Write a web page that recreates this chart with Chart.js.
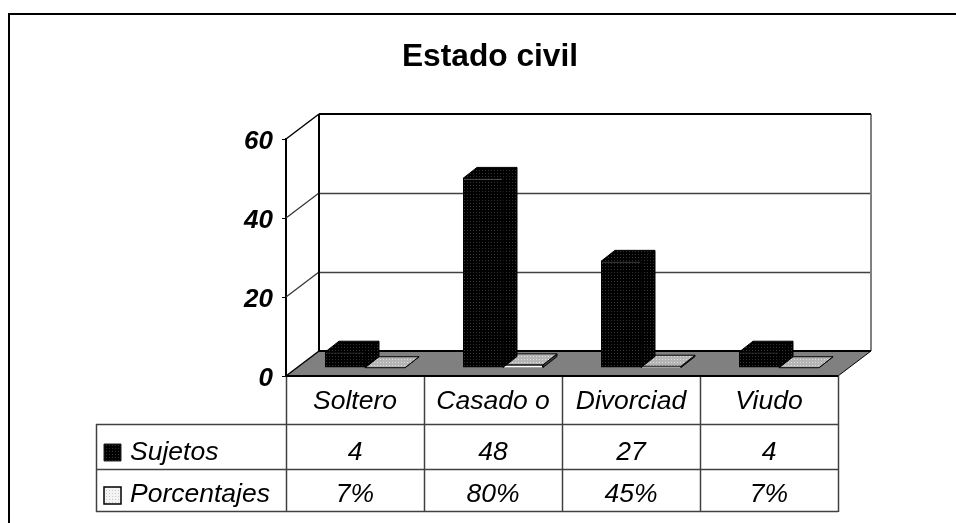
<!DOCTYPE html>
<html>
<head>
<meta charset="utf-8">
<title>Estado civil</title>
<script src="https://cdn.jsdelivr.net/npm/chart.js@4/dist/chart.umd.min.js"></script>
<style>
  html, body { margin: 0; background: #fff; }
  canvas { display: block; }
</style>
</head>
<body>
<canvas id="myChart" width="956" height="523"></canvas>
<script>
  //Datos
  const categorias = ['Soltero', 'Casado o', 'Divorciad', 'Viudo'];
  const sujetos = [4, 48, 27, 4];
  const porcentajes = [0.07, 0.80, 0.45, 0.07];
  const porcentajesTexto = ['7%', '80%', '45%', '7%'];
  const ticksY = [0, 20, 40, 60];

  const fuente = '"Liberation Sans", Arial, sans-serif';

  //Profundidad de la caja 3D y de las barras
  const cajaX = 33, cajaY = 25;
  const barraX = 14, barraY = 11;
  const corrX = 10, corrY = 8;

  function trama(fondo, punto) {
    const c = document.createElement('canvas');
    c.width = 3; c.height = 3;
    const g = c.getContext('2d');
    g.fillStyle = fondo;
    g.fillRect(0, 0, 3, 3);
    g.fillStyle = punto;
    g.fillRect(1, 1, 1, 1);
    return g.createPattern(c, 'repeat');
  }
  const tramaOscura = trama('#000000', '#333333');
  const tramaClara = trama('#b4b4b4', '#e0e0e0');
  const tramaLeyenda = trama('#f4f4f4', '#c8c8c8');

  function poligono(ctx, puntos, relleno, borde, ancho) {
    ctx.beginPath();
    puntos.forEach((p, i) => i ? ctx.lineTo(p[0], p[1]) : ctx.moveTo(p[0], p[1]));
    ctx.closePath();
    ctx.fillStyle = relleno;
    ctx.fill();
    if (borde) {
      ctx.strokeStyle = borde;
      ctx.lineWidth = ancho || 1;
      ctx.stroke();
    }
  }

  function linea(ctx, x1, y1, x2, y2, color, ancho) {
    ctx.beginPath();
    ctx.moveTo(x1, y1);
    ctx.lineTo(x2, y2);
    ctx.strokeStyle = color;
    ctx.lineWidth = ancho;
    ctx.stroke();
  }

  //Paredes, piso, marco y tabla de datos
  const caja3d = {
    id: 'caja3d',
    beforeDatasetsDraw(chart) {
      const ctx = chart.ctx;
      const a = chart.chartArea;
      const y = chart.scales.y;
      ctx.save();
      //marco exterior
      linea(ctx, 9, 14, 956, 14, '#000', 2);
      linea(ctx, 9, 13, 9, 523, '#000', 2);
      //piso
      poligono(ctx, [[a.left, a.bottom], [a.left + cajaX, a.bottom - cajaY],
        [a.right + cajaX, a.bottom - cajaY], [a.right, a.bottom]], '#808080');
      //lineas de division
      ticksY.forEach(v => {
        const py = Math.round(y.getPixelForValue(v));
        if (v > 0 && v < 60) {
          linea(ctx, a.left + cajaX, py - cajaY + 0.5, a.right + cajaX, py - cajaY + 0.5, '#404040', 1.5);
          linea(ctx, a.left, py, a.left + cajaX, py - cajaY, '#333', 1.2);
        }
      });
      const top = a.top - cajaY, fondo = a.bottom - cajaY;
      linea(ctx, a.right + cajaX, top, a.right + cajaX, fondo, '#808080', 2);
      linea(ctx, a.left + cajaX, top, a.right + cajaX, top, '#000', 2);
      linea(ctx, a.left + cajaX, top, a.left + cajaX, fondo, '#000', 2);
      linea(ctx, a.left, a.top, a.left + cajaX, top, '#000', 1.5);
      linea(ctx, a.left, a.bottom, a.left + cajaX, fondo, '#000', 1.5);
      linea(ctx, a.left + cajaX, fondo, a.right + cajaX, fondo, '#000', 2);
      linea(ctx, a.right, a.bottom, a.right + cajaX, fondo, '#000', 1);
      ctx.restore();
      //las barras se apoyan dentro del piso
      ctx.save();
      ctx.translate(corrX, -corrY);
    },
    beforeDatasetDraw(chart, args) {
      const ctx = chart.ctx;
      const oscura = args.index === 0;
      args.meta.data.forEach(el => {
        const w = el.width / 2;
        const x0 = el.x - w, x1 = el.x + w;
        //lado
        poligono(ctx, [[x1, el.base], [x1 + barraX, el.base - barraY], [x1 + barraX, el.y - barraY], [x1, el.y]],
          oscura ? tramaOscura : '#404040', '#000', 1);
        //tapa
        poligono(ctx, [[x0, el.y], [x0 + barraX, el.y - barraY], [x1 + barraX, el.y - barraY], [x1, el.y]],
          oscura ? tramaOscura : tramaClara, '#000', 1);
      });
    },
    afterDatasetsDraw(chart) {
      chart.ctx.restore();
    },
    afterDraw(chart) {
      const ctx = chart.ctx;
      const a = chart.chartArea;
      const x = chart.scales.x;
      const paso = (a.right - a.left) / categorias.length;
      const filas = [424, 469, 511];
      const izq = 96;
      ctx.save();
      //tabla
      filas.forEach(f => linea(ctx, izq, f + 0.5, a.right, f + 0.5, '#404040', 1.5));
      linea(ctx, izq + 0.5, filas[0], izq + 0.5, filas[2] + 1, '#404040', 1.5);
      categorias.forEach((c, i) => {
        const bx = Math.round(x.getPixelForValue(i) - paso / 2) + 0.5;
        linea(ctx, bx, a.bottom, bx, filas[2] + 1, '#404040', 1.5);
      });
      linea(ctx, a.right + 0.5, a.bottom, a.right + 0.5, filas[2] + 1, '#404040', 1.5);
      linea(ctx, a.left, a.bottom, a.right, a.bottom, '#000', 2);
      //texto
      ctx.font = 'italic 26.5px ' + fuente;
      ctx.fillStyle = '#000';
      ctx.textBaseline = 'alphabetic';
      ctx.textAlign = 'left';
      ctx.fillText(chart.data.datasets[0].label, 130, 460);
      ctx.fillText(chart.data.datasets[1].label, 130, 502);
      ctx.textAlign = 'center';
      categorias.forEach((c, i) => {
        const cx = x.getPixelForValue(i);
        ctx.fillText(String(sujetos[i]), cx, 460);
        ctx.fillText(porcentajesTexto[i], cx, 502);
      });
      //leyenda
      poligono(ctx, [[104, 444], [121, 444], [121, 461], [104, 461]], tramaOscura, '#222', 1);
      poligono(ctx, [[104, 487], [121, 487], [121, 504], [104, 504]], tramaLeyenda, '#000', 1.5);
      ctx.restore();
    }
  };

  const data = {
    labels: categorias,
    datasets: [{
      label: 'Sujetos',
      data: sujetos,
      backgroundColor: tramaOscura,
      borderColor: '#000',
      borderWidth: 1,
      clip: false
    }, {
      label: 'Porcentajes',
      data: porcentajes,
      backgroundColor: '#ffffff',
      borderColor: '#000',
      borderWidth: 1,
      clip: false
    }]
  };

  const config = {
    type: 'bar',
    data: data,
    plugins: [caja3d],
    options: {
      responsive: false,
      animation: false,
      events: [],
      barPercentage: 1,
      categoryPercentage: 0.58,
      layout: { padding: { left: 142, right: 118, top: 0, bottom: 0 } },
      plugins: {
        legend: { display: false },
        tooltip: { enabled: false },
        title: {
          display: true,
          text: 'Estado civil',
          color: '#000',
          font: { family: fuente, size: 31.7, weight: 'bold', lineHeight: 1 },
          padding: { top: 41, bottom: 66.3 }
        }
      },
      scales: {
        x: {
          grid: { display: false },
          border: { display: false },
          afterFit(scale) { scale.height = 147; },
          ticks: {
            color: '#000',
            padding: 2,
            maxRotation: 0,
            autoSkip: false,
            font: { family: fuente, size: 26.5, style: 'italic' }
          }
        },
        y: {
          min: 0,
          max: 60,
          afterFit(scale) { scale.width = 144; },
          afterBuildTicks(scale) { scale.ticks = ticksY.map(v => ({ value: v })); },
          grid: { drawOnChartArea: false, color: '#000', tickLength: 4, tickWidth: 1 },
          border: { display: true, color: '#000', width: 2 },
          ticks: {
            color: '#000',
            padding: 9,
            labelOffset: 3,
            font: { family: fuente, size: 26, style: 'italic', weight: 'bold' }
          }
        }
      }
    }
  };

  const myChart = new Chart(document.getElementById('myChart'), config);
</script>
</body>
</html>
